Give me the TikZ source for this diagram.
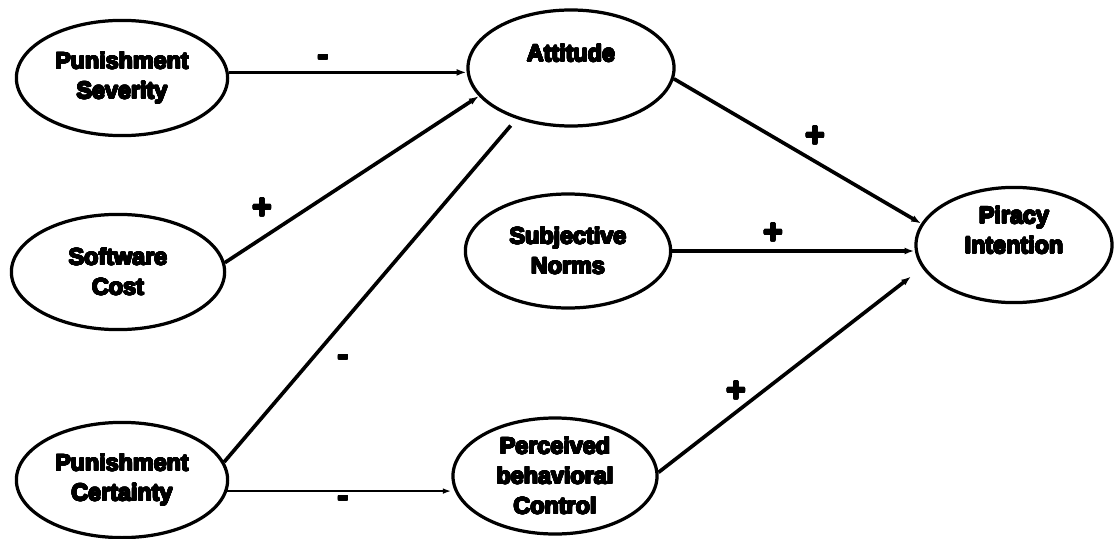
\documentclass[tikz,border=0pt]{standalone}
\usepackage{fontspec}
\newfontfamily\heavyfont{Liberation Sans Bold}
\usepackage{xcolor}
\usepackage{tikz}
\usepackage{contour}
\contourlength{0.5pt}
\contournumber{24}
\newcommand{\hv}[1]{\contour{black}{#1}}
\usetikzlibrary{shapes.geometric,arrows.meta}

\tikzset{
  construct/.style={draw, ellipse, line width=2.3pt, inner sep=0pt, align=center,
    font=\heavyfont\fontsize{16.6}{21.3}\selectfont},
  link/.style={line width=2.6pt, -{Latex[length=7pt,width=5pt]}},
  thinlink/.style={line width=1.3pt, -{Latex[length=6pt,width=4pt]}},
  sign/.style={inner sep=0pt, font=\heavyfont\fontsize{24}{24}\selectfont}
}

\begin{document}
\begin{tikzpicture}[x=0.025cm,y=-0.025cm]
\useasboundingbox (0,0) rectangle (1115,538);

\node[construct, minimum width=5.28cm, minimum height=2.88cm] (ps) at (122,78)
{\hv{Punishment}\\\hv{Severity}};
\node[construct, minimum width=5.33cm, minimum height=2.88cm] (sc) at (118,272)
{\hv{Software}\\\hv{Cost}};
\node[construct, minimum width=5.28cm, minimum height=2.88cm] (pc) at (122,480)
{\hv{Punishment}\\\hv{Certainty}};
\node[construct, minimum width=5.15cm, minimum height=2.9cm] (att) at (571,68)
{\hv{Attitude}\\\mbox{}};
\node[construct, minimum width=5.13cm, minimum height=2.85cm] (sn) at (568,251)
{\hv{Subjective}\\\hv{Norms}};
\node[construct, minimum width=4.9cm, minimum height=2.88cm] (pi) at (1014,245)
{\hv{Piracy}\\\hv{Intention}\\\mbox{}};
\node[construct, minimum width=5.1cm, minimum height=2.9cm] (pbc) at (555,476)
{\hv{Perceived}\\\hv{behavioral}\\\hv{Control}};

\draw[link] (ps.3) -- (ps.3 -| att.west);
\draw[link] (sc.5) -- (att.197);
\draw[link, -, shorten >=0.22cm] (pc.10) -- (att.223);
\draw[thinlink] (pc.-6) -- (pc.-6 -| pbc.west);
\draw[link] (att.-6) -- (pi.167);
\draw[link] (sn.east) -- (sn.east -| pi.west);
\draw[link, shorten >=0.35cm] (pbc.2) -- (pi.194);

% signs
\node[sign] (s1) at (323,61) {\hv{-}};
\node[sign] (s2) at (262,209) {\hv{+}};
\node[sign] (s3) at (343,361) {\hv{-}};
\node[sign] (s4) at (343,502) {\hv{-}};
\node[sign] (s5) at (815,137) {\hv{+}};
\node[sign] (s6) at (773,234) {\hv{+}};
\node[sign] (s7) at (736,392) {\hv{+}};
\end{tikzpicture}
\end{document}
